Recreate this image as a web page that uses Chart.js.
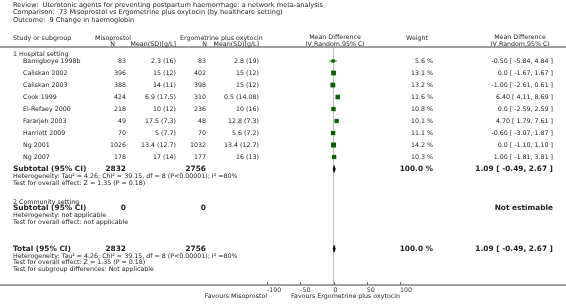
<!DOCTYPE html>
<html>
<head>
<meta charset="utf-8">
<script src="https://cdn.jsdelivr.net/npm/chart.js@4/dist/chart.umd.min.js"></script>
<style>
  html, body { margin: 0; padding: 0; background: #fff; }
  canvas { display: block; }
</style>
</head>
<body>
<canvas id="chart" width="566" height="308"></canvas>
<script>
// data
const titleLines = [
  "Review:  Uterotonic agents for preventing postpartum haemorrhage: a network meta-analysis",
  "Comparison:  73 Misoprostol vs Ergometrine plus oxytocin (by healthcare setting)",
  "Outcome:  9 Change in haemoglobin"
];
const studies = ["Bamigboye 1998b", "Caliskan 2002", "Caliskan 2003", "Cook 1999", "El-Refaey 2000",
  "Fararjeh 2003", "Harriott 2009", "Ng 2001", "Ng 2007"];
const misoN = [83, 396, 388, 424, 218, 49, 70, 1026, 178];
const misoMean = [2.3, 15, 14, 6.9, 10, 17.5, 5, 13.4, 17];
const misoSD = [16, 12, 11, 17.5, 12, 7.3, 7.7, 12.7, 14];
const ergoN = [83, 402, 398, 310, 236, 48, 70, 1032, 177];
const ergoMean = [2.8, 15, 15, 0.5, 10, 12.8, 5.6, 13.4, 16];
const ergoSD = [19, 12, 12, 14.08, 16, 7.3, 7.2, 12.7, 13];
const weights = [5.6, 13.1, 13.2, 11.6, 10.8, 10.1, 11.1, 14.2, 10.3];
const md = [-0.50, 0.0, -1.00, 6.40, 0.0, 4.70, -0.60, 0.0, 1.00];
const ciLow = [-5.84, -1.67, -2.61, 4.11, -2.59, 1.79, -3.07, -1.10, -1.81];
const ciHigh = [4.84, 1.67, 0.61, 8.69, 2.59, 7.61, 1.87, 1.10, 3.81];

const pooled = { md: 1.09, lo: -0.49, hi: 2.67 };
const subtotalN = [2832, 2756];
const communityN = [0, 0];
const totalN = [2832, 2756];
const hetText = "Heterogeneity: Tau\u00b2 = 4.26; Chi\u00b2 = 39.15, df = 8 (P<0.00001); I\u00b2 =80%";
const effectText = "Test for overall effect: Z = 1.35 (P = 0.18)";
const xTicks = [-100, -50, 0, 50, 100];

// row positions (study rows are 0..8)
const ROW_SUB = 9, ROW_COMM = 12.27, ROW_TOTAL = 15.64;

const FONT = '"DejaVu Sans", Verdana, sans-serif';
const TXT = '#222';
const GREEN = '#0b5e0b';

function fmt(v) { return v === 0 ? '0.0' : v.toFixed(2); }
function ciLabel(m, l, h) { return fmt(m) + ' [ ' + l.toFixed(2) + ', ' + h.toFixed(2) + ' ]'; }

const ciSets = studies.map((s, i) => ({
  data: [{ x: ciLow[i], y: i }, { x: ciHigh[i], y: i }],
  showLine: true, borderColor: GREEN, borderWidth: 1, pointRadius: 0
}));

function diamond(row) {
  const h = 0.28;
  return {
    data: [{ x: pooled.lo, y: row }, { x: pooled.md, y: row - h }, { x: pooled.hi, y: row },
      { x: pooled.md, y: row + h }, { x: pooled.lo, y: row }],
    showLine: true, borderColor: '#000', borderWidth: 0.8, pointRadius: 0,
    backgroundColor: '#000', fill: 'shape'
  };
}

const squares = {
  data: md.map((v, i) => ({ x: v, y: i })),
  pointStyle: 'rect',
  pointRadius: weights.map(w => (2.3 + w * 0.19) / 1.414),
  backgroundColor: GREEN, borderWidth: 0
};

const tablePlugin = {
  id: 'table',
  afterDraw(chart) {
    const ctx = chart.ctx;
    const ys = chart.scales.y, xs = chart.scales.x;
    const area = chart.chartArea;
    const W = chart.width;
    const put = (t, x, row, align, size, bold) => {
      ctx.font = (bold ? 'bold ' : '') + size + 'px ' + FONT;
      ctx.textAlign = align || 'left';
      ctx.textBaseline = 'middle';
      ctx.fillStyle = TXT;
      ctx.fillText(t, x, ys.getPixelForValue(row));
    };
    ctx.save();
    // full width rules
    ctx.strokeStyle = '#a0a0a0';
    ctx.lineWidth = 2;
    [area.top, area.bottom].forEach(y => {
      ctx.beginPath(); ctx.moveTo(0, y); ctx.lineTo(W, y); ctx.stroke();
    });
    // small tick marks sitting on the axis rule
    ctx.strokeStyle = '#666';
    ctx.lineWidth = 1;
    xTicks.forEach(v => {
      const x = Math.round(xs.getPixelForValue(v)) + 0.5;
      ctx.beginPath(); ctx.moveTo(x, area.bottom - 3); ctx.lineTo(x, area.bottom); ctx.stroke();
    });

    titleLines.forEach((t, i) => put(t, 13, -4.68 + i * 0.66, 'left', 6.6));

    // headers
    put('Study or subgroup', 13, -1.92, 'left', 6.3);
    put('Misoprostol', 95, -1.92, 'left', 6.3);
    put('Ergometrine plus oxytocin', 180, -1.92, 'left', 6.3);
    put('N', 115, -1.42, 'right', 6.3);
    put('Mean(SD)[g/L]', 176, -1.42, 'right', 6.3);
    put('N', 207, -1.42, 'right', 6.3);
    put('Mean(SD)[g/L]', 259, -1.42, 'right', 6.3);
    put('Mean Difference', 335, -2.0, 'center', 6.3);
    put('IV,Random,95% CI', 335, -1.42, 'center', 6.3);
    put('Weight', 417, -1.9, 'center', 6.3);
    put('Mean Difference', 520, -2.0, 'center', 6.3);
    put('IV,Random,95% CI', 520, -1.42, 'center', 6.3);

    put('1 Hospital setting', 13, -0.58, 'left', 6.3);
    studies.forEach((s, i) => {
      put(s, 23, i, 'left', 6.3);
      put(String(misoN[i]), 126, i, 'right', 6.3);
      put(misoMean[i] + ' (' + misoSD[i] + ')', 176, i, 'right', 6.3);
      put(String(ergoN[i]), 206, i, 'right', 6.3);
      put(ergoMean[i] + ' (' + ergoSD[i] + ')', 259, i, 'right', 6.3);
      put(weights[i].toFixed(1) + ' %', 433, i, 'right', 6.3);
      put(ciLabel(md[i], ciLow[i], ciHigh[i]), 553, i, 'right', 6.3);
    });

    put('Subtotal (95% CI)', 13, ROW_SUB, 'left', 7.4, true);
    put(String(subtotalN[0]), 126, ROW_SUB, 'right', 7.4, true);
    put(String(subtotalN[1]), 206, ROW_SUB, 'right', 7.4, true);
    put('100.0 %', 433, ROW_SUB, 'right', 7.4, true);
    put(ciLabel(pooled.md, pooled.lo, pooled.hi), 553, ROW_SUB, 'right', 7.4, true);
    put(hetText, 13, ROW_SUB + 0.6, 'left', 6.3);
    put(effectText, 13, ROW_SUB + 1.18, 'left', 6.3);

    put('2 Community setting', 13, ROW_COMM - 0.47, 'left', 6.3);
    put('Subtotal (95% CI)', 13, ROW_COMM, 'left', 7.4, true);
    put(String(communityN[0]), 126, ROW_COMM, 'right', 7.4, true);
    put(String(communityN[1]), 206, ROW_COMM, 'right', 7.4, true);
    put('Not estimable', 553, ROW_COMM, 'right', 7.4, true);
    put('Heterogeneity: not applicable', 13, ROW_COMM + 0.6, 'left', 6.3);
    put('Test for overall effect: not applicable', 13, ROW_COMM + 1.18, 'left', 6.3);

    put('Total (95% CI)', 13, ROW_TOTAL, 'left', 7.4, true);
    put(String(totalN[0]), 126, ROW_TOTAL, 'right', 7.4, true);
    put(String(totalN[1]), 206, ROW_TOTAL, 'right', 7.4, true);
    put('100.0 %', 433, ROW_TOTAL, 'right', 7.4, true);
    put(ciLabel(pooled.md, pooled.lo, pooled.hi), 553, ROW_TOTAL, 'right', 7.4, true);
    put(hetText, 13, ROW_TOTAL + 0.6, 'left', 6.3);
    put(effectText, 13, ROW_TOTAL + 1.18, 'left', 6.3);
    put('Test for subgroup differences: Not applicable', 13, ROW_TOTAL + 1.76, 'left', 6.3);

    // favours labels under the axis
    ctx.font = '6.3px ' + FONT;
    ctx.fillStyle = TXT;
    ctx.textBaseline = 'middle';
    ctx.textAlign = 'right';
    ctx.fillText('Favours Misoprostol', xs.getPixelForValue(-100), area.bottom + 11);
    ctx.fillText('Favours Ergometrine plus oxytocin', xs.getPixelForValue(100), area.bottom + 11);
    ctx.restore();
  }
};

new Chart(document.getElementById('chart'), {
  type: 'scatter',
  data: { datasets: [...ciSets, squares, diamond(ROW_SUB), diamond(ROW_TOTAL)] },
  options: {
    responsive: false,
    animation: false,
    devicePixelRatio: 1,
    layout: { padding: { left: 267, right: 166, top: 47, bottom: 3 } },
    plugins: { legend: { display: false }, tooltip: { enabled: false } },
    scales: {
      x: {
        type: 'linear', min: -100, max: 100,
        afterBuildTicks: s => { s.ticks = xTicks.map(v => ({ value: v })); },
        afterFit: s => { s.height = 20; },
        border: { display: false },
        grid: {
          drawOnChartArea: true, drawTicks: false,
          color: c => (c.tick && c.tick.value === 0) ? '#bdbdbd' : 'rgba(0,0,0,0)',
          lineWidth: 1
        },
        ticks: { font: { family: FONT, size: 6.3 }, color: '#333', padding: 2, align: 'start', maxRotation: 0, autoSkip: false }
      },
      y: { type: 'linear', display: false, reverse: true, min: -1.167, max: 18.667 }
    }
  },
  plugins: [tablePlugin]
});
</script>
</body>
</html>
